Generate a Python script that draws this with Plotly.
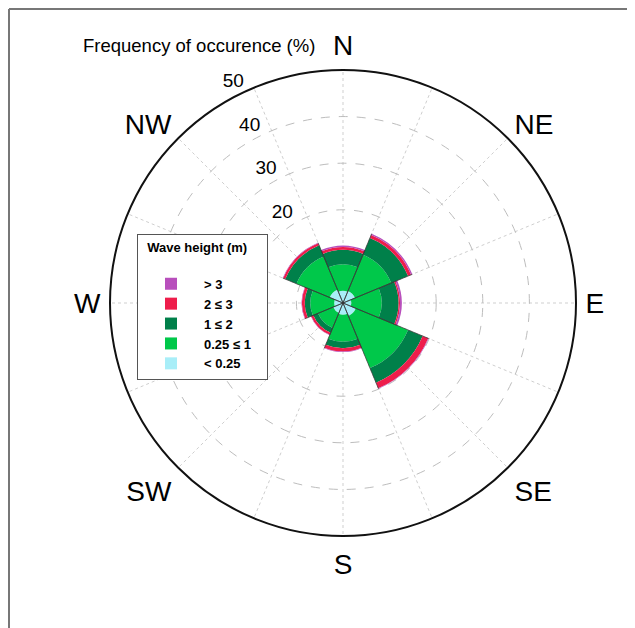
import plotly.graph_objects as go

# ---- data ----
directions = ["N", "NE", "E", "SE", "S", "SW", "W", "NW"]
sector_angles = [0, 45, 90, 135, 180, 225, 270, 315]

bins = ["&lt; 0.25", "0.25 ≤ 1\u00a0\u00a0\u00a0", "1 ≤ 2", "2 ≤ 3", "&gt; 3"]
freq_lt025 = [2.6, 2.8, 1.8, 3.0, 2.5, 2.3, 1.9, 3.1]
freq_025_1 = [5.7, 8.4, 6.5, 12.1, 5.8, 3.5, 5.1, 7.7]
freq_1_2 = [3.1, 3.9, 3.6, 3.4, 1.4, 1.1, 1.2, 2.6]
freq_2_3 = [0.6, 0.7, 0.3, 1.3, 0.7, 0.5, 0.6, 0.5]
freq_gt3 = [0.3, 0.3, 0.4, 0.1, 0.1, 0.1, 0.1, 0.1]

radial_grid = [10, 20, 30, 40, 50]
radial_labels = [20, 30, 40, 50]

colors = ["#a8eef8", "#00c84a", "#00804a", "#ee1d4b", "#b84fbc"]
series = [freq_lt025, freq_025_1, freq_1_2, freq_2_3, freq_gt3]

# the page adds an 8px body margin, so the figure is laid out 8px smaller
OFF = 8
W, H = 635 - OFF, 628 - OFF
FONT = "Liberation Sans, Arial, sans-serif"


def px(x):
    return (x - OFF) / W


def py(y):
    return (H - (y - OFF)) / H


fig = go.Figure()
for name, vals, col in zip(bins, series, colors):
    fig.add_trace(go.Barpolar(
        r=vals, theta=sector_angles, width=[45] * len(vals), name=name,
        marker=dict(color=col, line=dict(width=0)),
    ))

# thin dark radial edges of each wedge (derived from the totals)
totals = [sum(v) for v in zip(*series)]
er, et = [], []
for a, t in zip(sector_angles, totals):
    for edge in (a - 22.5, a + 22.5):
        er += [0, t, None]
        et += [edge, edge, None]
fig.add_trace(go.Scatterpolar(r=er, theta=et, mode="lines",
                              line=dict(color="#333333", width=0.7),
                              showlegend=False, hoverinfo="skip"))

# overlay subplot carrying only the radial tick labels (sits slightly outside
# each ring, as in the reference)
fig.add_trace(go.Scatterpolar(r=[], theta=[], subplot="polar2",
                              showlegend=False, hoverinfo="skip"))

cx, cy, R = 343, 303, 233
dom_x = [px(cx - R), px(cx + R)]
dom_y = [py(cy + R), py(cy - R)]
LAB_PAD = 2.8                      # label offset, in % units
R2 = R * (50 + LAB_PAD) / 50
dom2_x = [px(cx - R2), px(cx + R2)]
dom2_y = [py(cy + R2), py(cy - R2)]

grid_vals = [i * 22.5 for i in range(16)]
grid_text = [directions[i // 2] if i % 2 == 0 else "" for i in range(16)]

fig.update_layout(
    width=W, height=H,
    margin=dict(l=0, r=0, t=0, b=0),
    paper_bgcolor="white",
    font=dict(family=FONT, color="black"),
    polar=dict(
        domain=dict(x=dom_x, y=dom_y),
        bgcolor="white",
        barmode="stack",
        angularaxis=dict(
            direction="clockwise", rotation=90,
            tickmode="array", tickvals=grid_vals, ticktext=grid_text,
            tickfont=dict(size=28, family=FONT),
            ticks="outside", ticklen=3, tickcolor="rgba(0,0,0,0)",
            showline=True, linecolor="#111111", linewidth=2,
            showgrid=True, gridcolor="#cfcfcf", griddash="dot", gridwidth=1,
            layer="below traces",
        ),
        radialaxis=dict(
            range=[0, 50], tickmode="array", tickvals=radial_grid,
            showticklabels=False, showline=False, ticks="",
            showgrid=True, gridcolor="#bdbdbd", griddash="dash", gridwidth=1.2,
            layer="below traces",
        ),
    ),
    polar2=dict(
        domain=dict(x=dom2_x, y=dom2_y),
        bgcolor="rgba(0,0,0,0)",
        angularaxis=dict(visible=False, direction="clockwise", rotation=90),
        radialaxis=dict(
            range=[-LAB_PAD, 50], tickmode="array", tickvals=radial_labels,
            ticktext=[str(v) for v in radial_labels],
            angle=110.5, tickangle=110.5, side="counterclockwise",
            tickfont=dict(size=19, family=FONT),
            showgrid=False, showline=False, ticks="",
        ),
    ),
    legend=dict(
        x=px(137), y=py(234), xanchor="left", yanchor="top",
        traceorder="reversed",
        bgcolor="white", bordercolor="#555555", borderwidth=1,
        font=dict(size=13, family=FONT, weight="bold"),
        title=dict(text="\u00a0\u00a0Wave height (m)<br><span style='font-size:3px'> </span>",
                   font=dict(size=13, family=FONT, weight="bold")),
        itemwidth=56,
    ),
    annotations=[dict(
        text="Frequency of occurence (%)", x=px(199), y=py(45),
        xref="paper", yref="paper", xanchor="center", yanchor="middle",
        showarrow=False, font=dict(size=18.5, family=FONT),
    )],
    shapes=[
        dict(type="line", xref="paper", yref="paper", x0=1 / W, x1=1 / W,
             y0=0, y1=1 - 1 / H, line=dict(color="#777777", width=2)),
        dict(type="line", xref="paper", yref="paper", x0=1 / W, x1=1,
             y0=1 - 1 / H, y1=1 - 1 / H, line=dict(color="#777777", width=2)),
    ],
)

fig.write_html("out.html")
